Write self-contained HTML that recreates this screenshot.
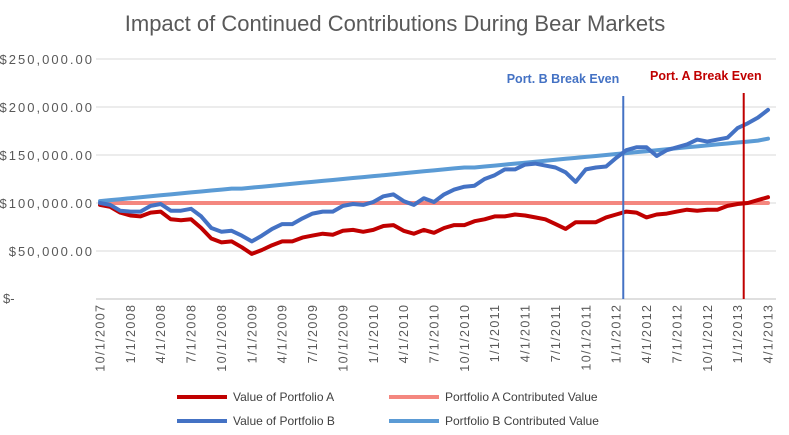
<!DOCTYPE html>
<html><head><meta charset="utf-8"><style>
body{margin:0;background:#fff;}
svg{display:block;font-family:"Liberation Sans",sans-serif;}
</style></head><body>
<svg id="chart" width="789" height="435" viewBox="0 0 789 435" xmlns="http://www.w3.org/2000/svg">
<text x="395" y="31" text-anchor="middle" font-size="22" fill="#595959">Impact of Continued Contributions During Bear Markets</text>
<g id="grid"></g><g id="ylab"></g><g id="xlab"></g><g id="series"></g><g id="markers"></g>
<g>
<line x1="177" y1="397" x2="227" y2="397" stroke="#c00000" stroke-width="4"/>
<text x="233" y="401" font-size="12" fill="#404040">Value of Portfolio A</text>
<line x1="389" y1="397" x2="439" y2="397" stroke="#f4877f" stroke-width="4"/>
<text x="445" y="401" font-size="12" fill="#404040">Portfolio A Contributed Value</text>
<line x1="177" y1="421" x2="227" y2="421" stroke="#4472c4" stroke-width="4"/>
<text x="233" y="425" font-size="12" fill="#404040">Value of Portfolio B</text>
<line x1="389" y1="421" x2="439" y2="421" stroke="#5b9bd5" stroke-width="4"/>
<text x="445" y="425" font-size="12" fill="#404040">Portfolio B Contributed Value</text>
</g>
</svg>
<script>
const tickLabels=["10/1/2007","1/1/2008","4/1/2008","7/1/2008","10/1/2008","1/1/2009","4/1/2009","7/1/2009","10/1/2009","1/1/2010","4/1/2010","7/1/2010","10/1/2010","1/1/2011","4/1/2011","7/1/2011","10/1/2011","1/1/2012","4/1/2012","7/1/2012","10/1/2012","1/1/2013","4/1/2013"];
const yTicks=[0,50000,100000,150000,200000,250000];
const valueA=[98,96,90,87,86,90,91,83,82,83,74,63,59,60,54,47,51,56,60,60,64,66,68,67,71,72,70,72,76,77,71,68,72,69,74,77,77,81,83,86,86,88,87,85,83,78,73,80,80,80,85,88,91,90,85,88,89,91,93,92,93,93,97,99,100,103,106];
const valueB=[100,98,92,91,91,97,99,92,92,94,86,74,70,71,66,60,66,73,78,78,84,89,91,91,97,99,98,101,107,109,102,98,105,101,109,114,117,118,125,129,135,135,140,141,139,137,132,122,135,137,138,147,155,158,158,149,155,158,161,166,164,166,168,178,183,189,197];
const contribA=[100,100,100,100,100,100,100,100,100,100,100,100,100,100,100,100,100,100,100,100,100,100,100,100,100,100,100,100,100,100,100,100,100,100,100,100,100,100,100,100,100,100,100,100,100,100,100,100,100,100,100,100,100,100,100,100,100,100,100,100,100,100,100,100,100,100,100];
const contribB=[102,103,104,105,106,107,108,109,110,111,112,113,114,115,115,116,117,118,119,120,121,122,123,124,125,126,127,128,129,130,131,132,133,134,135,136,137,137,138,139,140,141,142,143,144,145,146,147,148,149,150,151,152,153,154,155,156,157,158,159,160,161,162,163,164,165,167];
const breakEvenB=51.7, breakEvenA=63.6;
const NS="http://www.w3.org/2000/svg";
const x0=100,x1=768,yBase=299,yTop=59;
const n=valueA.length;
const X=i=>x0+(x1-x0)*i/(n-1);
const Y=v=>yBase-(yBase-yTop)*v/250000;
function mk(t,a,p){const e=document.createElementNS(NS,t);for(const k in a)e.setAttribute(k,a[k]);p.appendChild(e);return e;}
const grid=document.getElementById('grid'),ylab=document.getElementById('ylab'),xlab=document.getElementById('xlab');
yTicks.forEach(v=>{
  const l=mk('line',{x1:96,x2:776,y1:Y(v),y2:Y(v),stroke:v===0?'#bfbfbf':'#d9d9d9','stroke-width':1},grid);
  
  
  if(v===0){
    const a=mk('text',{x:3,y:Y(v)+4,'font-size':13,fill:'#595959'},ylab);
    a.textContent='$-';
    
    
    return;
  }
  const t=mk('text',{x:92,y:Y(v)+5,'text-anchor':'end','font-size':13,fill:'#595959'},ylab);
  t.textContent='$'+v.toLocaleString('en-US',{minimumFractionDigits:2});
  
  
  const w=t.getComputedTextLength();
  t.setAttribute('textLength',(w*1.28).toFixed(1));
});
tickLabels.forEach((s,k)=>{
  const x=X(k*3);
  const t=mk('text',{transform:`translate(${x+4.5},305) rotate(-90)`,'text-anchor':'end','font-size':12.5,fill:'#595959'},xlab);
  t.textContent=s;
  
  
  const w=t.getComputedTextLength();
  t.setAttribute('textLength',(w*1.2).toFixed(1));
});
const ser=document.getElementById('series');
function line(arr,color,name,w){
  const d=arr.map((v,i)=>(i?'L':'M')+X(i).toFixed(1)+','+Y(v*1000).toFixed(1)).join('');
  const p=mk('path',{d,fill:'none',stroke:color,'stroke-width':w,'stroke-linejoin':'round','stroke-linecap':'round'},ser);
  
  
}
line(contribA,'#f4877f','line-portfolio-a-contributed',4);
line(contribB,'#5b9bd5','line-portfolio-b-contributed',4);
line(valueA,'#c00000','line-portfolio-a',4);
line(valueB,'#4472c4','line-portfolio-b',4);
const mg=document.getElementById('markers');
const lb=mk('line',{x1:X(breakEvenB),x2:X(breakEvenB),y1:96,y2:299,stroke:'#4472c4','stroke-width':2},mg);


const la=mk('line',{x1:X(breakEvenA),x2:X(breakEvenA),y1:93,y2:299,stroke:'#c00000','stroke-width':2},mg);


const tb=mk('text',{x:X(breakEvenB)-4,y:83,'text-anchor':'end','font-size':12.5,'font-weight':'bold',fill:'#4472c4'},mg);
tb.textContent='Port. B Break Even';


const ta=mk('text',{x:650,y:80,'font-size':12.5,'font-weight':'bold',fill:'#c00000'},mg);
ta.textContent='Port. A Break Even';


</script>
</body></html>
